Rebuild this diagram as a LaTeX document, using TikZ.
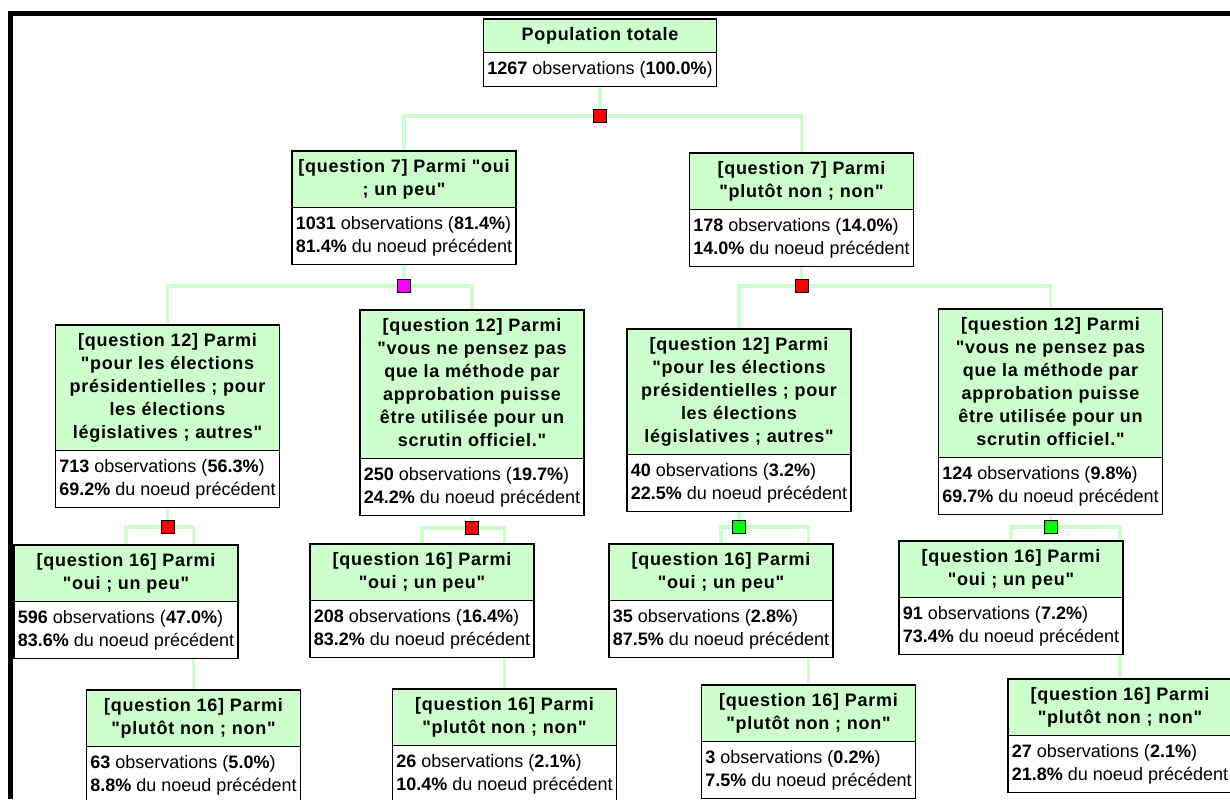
\documentclass[tikz,border=0pt]{standalone}
\usepackage{fontspec}
\setmainfont{Liberation Sans}
\newfontfamily\hdfont{Liberation Sans}[LetterSpace=4]
\usepackage{tikz}
\usetikzlibrary{shapes.multipart,backgrounds}

\definecolor{hdgreen}{RGB}{204,255,204}
\definecolor{lnkgreen}{RGB}{204,255,204}
\definecolor{sqred}{RGB}{255,0,0}
\definecolor{sqmag}{RGB}{255,0,255}
\definecolor{sqgreen}{RGB}{0,255,0}

\newcommand{\hd}[1]{{\hdfont\bfseries\begin{tabular}{@{}c@{}}#1\end{tabular}}}
\newcommand{\obs}[3]{\begin{tabular}{@{}l@{}}\textbf{#1} observations (\textbf{#2})\\\textbf{#3} du noeud précédent\end{tabular}}

\begin{document}
\begin{tikzpicture}[
  x=0.5pt, y=-0.5pt,
  font=\fontsize{9pt}{11.5pt}\selectfont,
  box/.style={
    rectangle split, rectangle split parts=2,
    rectangle split part fill={hdgreen,white},
    rectangle split part align={center,left},
    draw=black, line width=0.8pt,
    inner xsep=2pt, inner ysep=2.3pt, anchor=north
  },
  sq/.style={draw=black, line width=0.4pt, minimum size=6.5pt, inner sep=0pt},
  link/.style={lnkgreen, line width=1.6pt}
]
\useasboundingbox (0,0) rectangle (1230,799);

% --- Frame ---
\draw[line width=2.5pt] (10.5,799) |- (1230,13.5);

% --- Root and first split ---
\node[box] (root) at (600,18) {\hd{Population totale}
  \nodepart{two}\begin{tabular}{@{}l@{}}\textbf{1267} observations (\textbf{100.0\%})\end{tabular}};

\node[box] (oui7) at (404,150) {\hd{[question 7] Parmi "oui\\; un peu"}
  \nodepart{two}\obs{1031}{81.4\%}{81.4\%}};
\node[box] (non7) at (801.5,152) {\hd{[question 7] Parmi\\"plutôt non ; non"}
  \nodepart{two}\obs{178}{14.0\%}{14.0\%}};

% --- Question 12 ---
\node[box] (pres12a) at (167.5,324) {\hd{[question 12] Parmi\\"pour les élections\\présidentielles ; pour\\les élections\\législatives ; autres"}
  \nodepart{two}\obs{713}{56.3\%}{69.2\%}};
\node[box] (vous12a) at (472,309) {\hd{[question 12] Parmi\\"vous ne pensez pas\\que la méthode par\\approbation puisse\\être utilisée pour un\\scrutin officiel."}
  \nodepart{two}\obs{250}{19.7\%}{24.2\%}};
\node[box] (pres12b) at (739,328) {\hd{[question 12] Parmi\\"pour les élections\\présidentielles ; pour\\les élections\\législatives ; autres"}
  \nodepart{two}\obs{40}{3.2\%}{22.5\%}};
\node[box] (vous12b) at (1050.5,308) {\hd{[question 12] Parmi\\"vous ne pensez pas\\que la méthode par\\approbation puisse\\être utilisée pour un\\scrutin officiel."}
  \nodepart{two}\obs{124}{9.8\%}{69.7\%}};

% --- Question 16 ---
\node[box] (oui16a) at (126,544) {\hd{[question 16] Parmi\\"oui ; un peu"}
  \nodepart{two}\obs{596}{47.0\%}{83.6\%}};
\node[box] (non16a) at (193.5,689) {\hd{[question 16] Parmi\\"plutôt non ; non"}
  \nodepart{two}\obs{63}{5.0\%}{8.8\%}};
\node[box] (oui16b) at (422,543) {\hd{[question 16] Parmi\\"oui ; un peu"}
  \nodepart{two}\obs{208}{16.4\%}{83.2\%}};
\node[box] (non16b) at (504.5,688) {\hd{[question 16] Parmi\\"plutôt non ; non"}
  \nodepart{two}\obs{26}{2.1\%}{10.4\%}};
\node[box] (oui16c) at (721,543) {\hd{[question 16] Parmi\\"oui ; un peu"}
  \nodepart{two}\obs{35}{2.8\%}{87.5\%}};
\node[box] (non16c) at (808.5,684) {\hd{[question 16] Parmi\\"plutôt non ; non"}
  \nodepart{two}\obs{3}{0.2\%}{7.5\%}};
\node[box] (oui16d) at (1011,540) {\hd{[question 16] Parmi\\"oui ; un peu"}
  \nodepart{two}\obs{91}{7.2\%}{73.4\%}};
\node[box] (non16d) at (1120,678) {\hd{[question 16] Parmi\\"plutôt non ; non"}
  \nodepart{two}\obs{27}{2.1\%}{21.8\%}};

% --- Split markers ---
\node[sq, fill=sqred]   (sp0) at (600,116) {};
\node[sq, fill=sqmag]   (sp1) at (404,286) {};
\node[sq, fill=sqred]   (sp2) at (801.5,286) {};
\node[sq, fill=sqred]   (sp3) at (167.5,527) {};
\node[sq, fill=sqred]   (sp4) at (472,528) {};
\node[sq, fill=sqgreen] (sp5) at (739,527) {};
\node[sq, fill=sqgreen] (sp6) at (1050.5,527) {};

% --- Links (behind the boxes) ---
\begin{scope}[on background layer]
\draw[link] (root) -- (sp0);
\draw[link] (sp0) -| (oui7);
\draw[link] (sp0) -| (non7);
\draw[link] (oui7) -- (sp1);
\draw[link] (sp1) -| (pres12a);
\draw[link] (sp1) -| (vous12a);
\draw[link] (non7) -- (sp2);
\draw[link] (sp2) -| (pres12b);
\draw[link] (sp2) -| (vous12b);
\draw[link] (pres12a) -- (sp3);
\draw[link] (sp3) -| (oui16a);
\draw[link] (sp3) -| (non16a);
\draw[link] (vous12a) -- (sp4);
\draw[link] (sp4) -| (oui16b);
\draw[link] (sp4) -| (non16b);
\draw[link] (pres12b) -- (sp5);
\draw[link] (sp5) -| (oui16c);
\draw[link] (sp5) -| (non16c);
\draw[link] (vous12b) -- (sp6);
\draw[link] (sp6) -| (oui16d);
\draw[link] (sp6) -| (non16d);
\end{scope}

\end{tikzpicture}
\end{document}
